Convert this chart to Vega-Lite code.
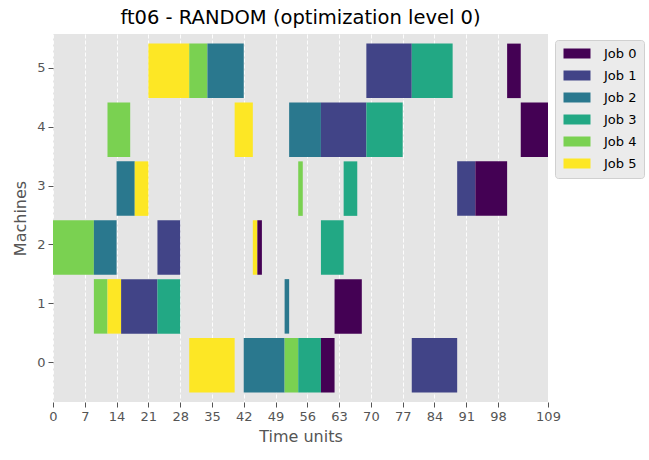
{
  "$schema": "https://vega.github.io/schema/vega-lite/v6.json",
  "width": 495,
  "height": 368,
  "autosize": "none",
  "padding": {"top": 34, "left": 53, "right": 101, "bottom": 58},
  "background": "white",
  "title": {"text": "ft06 - RANDOM (optimization level 0)", "fontSize": 19.5, "font": "DejaVu Sans", "fontWeight": "normal", "color": "black", "offset": 6, "anchor": "middle"},
  "config": {
    "view": {"fill": "#E5E5E5", "stroke": null},
    "font": "DejaVu Sans",
    "axis": {
      "labelFont": "DejaVu Sans", "labelFontSize": 13, "labelColor": "#555555",
      "titleFont": "DejaVu Sans", "titleFontSize": 16, "titleColor": "#555555", "titleFontWeight": "normal",
      "tickColor": "#555555", "tickSize": 5, "tickWidth": 1, "domain": false,
      "labelFlush": false, "labelOverlap": false, "labelPadding": 3
    }
  },
  "data": {
    "values": [
      {"job": "Job 5", "machine": 0, "start": 30, "end": 40},
      {"job": "Job 2", "machine": 0, "start": 42, "end": 51},
      {"job": "Job 4", "machine": 0, "start": 51, "end": 54},
      {"job": "Job 3", "machine": 0, "start": 54, "end": 59},
      {"job": "Job 0", "machine": 0, "start": 59, "end": 62},
      {"job": "Job 1", "machine": 0, "start": 79, "end": 89},
      {"job": "Job 4", "machine": 1, "start": 9, "end": 12},
      {"job": "Job 5", "machine": 1, "start": 12, "end": 15},
      {"job": "Job 1", "machine": 1, "start": 15, "end": 23},
      {"job": "Job 3", "machine": 1, "start": 23, "end": 28},
      {"job": "Job 2", "machine": 1, "start": 51, "end": 52},
      {"job": "Job 0", "machine": 1, "start": 62, "end": 68},
      {"job": "Job 4", "machine": 2, "start": 0, "end": 9},
      {"job": "Job 2", "machine": 2, "start": 9, "end": 14},
      {"job": "Job 1", "machine": 2, "start": 23, "end": 28},
      {"job": "Job 5", "machine": 2, "start": 44, "end": 45},
      {"job": "Job 0", "machine": 2, "start": 45, "end": 46},
      {"job": "Job 3", "machine": 2, "start": 59, "end": 64},
      {"job": "Job 2", "machine": 3, "start": 14, "end": 18},
      {"job": "Job 5", "machine": 3, "start": 18, "end": 21},
      {"job": "Job 4", "machine": 3, "start": 54, "end": 55},
      {"job": "Job 3", "machine": 3, "start": 64, "end": 67},
      {"job": "Job 1", "machine": 3, "start": 89, "end": 93},
      {"job": "Job 0", "machine": 3, "start": 93, "end": 100},
      {"job": "Job 4", "machine": 4, "start": 12, "end": 17},
      {"job": "Job 5", "machine": 4, "start": 40, "end": 44},
      {"job": "Job 2", "machine": 4, "start": 52, "end": 59},
      {"job": "Job 1", "machine": 4, "start": 59, "end": 69},
      {"job": "Job 3", "machine": 4, "start": 69, "end": 77},
      {"job": "Job 0", "machine": 4, "start": 103, "end": 109},
      {"job": "Job 5", "machine": 5, "start": 21, "end": 30},
      {"job": "Job 4", "machine": 5, "start": 30, "end": 34},
      {"job": "Job 2", "machine": 5, "start": 34, "end": 42},
      {"job": "Job 1", "machine": 5, "start": 69, "end": 79},
      {"job": "Job 3", "machine": 5, "start": 79, "end": 88},
      {"job": "Job 0", "machine": 5, "start": 100, "end": 103}
    ]
  },
  "mark": {"type": "bar", "size": 54.5, "yOffset": 3, "orient": "horizontal", "cornerRadius": 0},
  "encoding": {
    "x": {
      "field": "start", "type": "quantitative",
      "scale": {"domain": [0, 109], "nice": false, "zero": false},
      "axis": {"title": "Time units", "values": [0, 7, 14, 21, 28, 35, 42, 49, 56, 63, 70, 77, 84, 91, 98, 109], "grid": true, "gridColor": "white", "gridDash": [4, 2], "gridWidth": 0.9, "titlePadding": 5}
    },
    "x2": {"field": "end"},
    "y": {
      "field": "machine", "type": "quantitative",
      "scale": {"domain": [-0.59, 5.49], "nice": false, "zero": false},
      "axis": {"title": "Machines", "values": [0, 1, 2, 3, 4, 5], "grid": false, "titlePadding": 8, "format": "d"}
    },
    "color": {
      "field": "job", "type": "nominal",
      "scale": {"domain": ["Job 0", "Job 1", "Job 2", "Job 3", "Job 4", "Job 5"], "range": ["#440154", "#414487", "#2A788E", "#22A884", "#7AD151", "#FDE725"]},
      "legend": {
        "title": null, "orient": "none", "legendX": 502, "legendY": 6,
        "symbolType": "M-1,-1H4.4V1H-1Z", "symbolSize": 100, "symbolStrokeWidth": 0, "symbolOpacity": 1,
        "labelFont": "DejaVu Sans", "labelFontSize": 13, "labelColor": "black", "labelOffset": 29,
        "rowPadding": 8, "padding": 7, "fillColor": "#EBEBEB", "strokeColor": "#D0D0D0", "cornerRadius": 3
      }
    }
  }
}
